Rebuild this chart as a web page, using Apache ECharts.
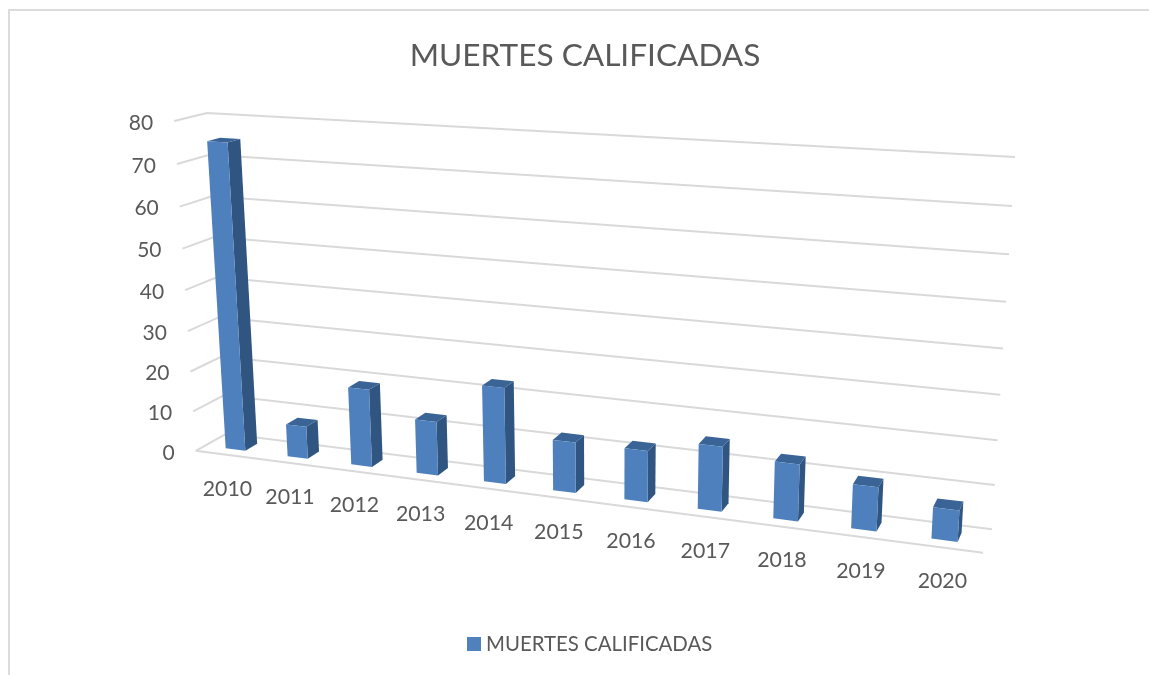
<!DOCTYPE html>
<html><head><meta charset="utf-8">
<style>html,body{margin:0;padding:0;background:#fff}#c{width:1149px;height:675px}</style>
<script src="https://cdn.jsdelivr.net/npm/echarts@6/dist/echarts.min.js"></script>
</head><body><div id="c"></div>
<script>
var chartTitle = 'MUERTES CALIFICADAS';
var categories = ['2010','2011','2012','2013','2014','2015','2016','2017','2018','2019','2020'];
var seriesValues = [75,8,19,13,23,12,12,15,13,10,7];
var valueTicks = [0,10,20,30,40,50,60,70,80];

// Camera calibration of the 3D box: [category, value, depth] -> [screen x, screen y]
var anchors = [
  [[0,0,0],[196,451]], [[11,0,0],[983,553]],
  [[0,0,1],[226,434]], [[11,0,1],[992,529]],
  [[0,80,1],[207,113]], [[11,80,1],[1015,157]],
  [[0,80,0],[174,121]], [[11,70,1],[1012,206]],
  [[0,70,0],[177,164]], [[0,10,0],[193,411]]
];
function solve(A,b){
  var n=b.length,i,j,k;
  for(i=0;i<n;i++){
    var p=i;for(k=i+1;k<n;k++)if(Math.abs(A[k][i])>Math.abs(A[p][i]))p=k;
    var t=A[i];A[i]=A[p];A[p]=t;t=b[i];b[i]=b[p];b[p]=t;
    for(k=i+1;k<n;k++){var f=A[k][i]/A[i][i];for(j=i;j<n;j++)A[k][j]-=f*A[i][j];b[k]-=f*b[i];}
  }
  var x=[];for(i=n-1;i>=0;i--){var s=b[i];for(j=i+1;j<n;j++)s-=A[i][j]*x[j];x[i]=s/A[i][i];}
  return x;
}
function fit(){
  var rows=[],rhs=[];
  anchors.forEach(function(a){
    var X=a[0][0]/11,Y=a[0][1]/80,Z=a[0][2],x=a[1][0]/1000,y=a[1][1]/1000;
    rows.push([X,Y,Z,1,0,0,0,0,-x*X,-x*Y,-x*Z]);rhs.push(x);
    rows.push([0,0,0,0,X,Y,Z,1,-y*X,-y*Y,-y*Z]);rhs.push(y);
  });
  var n=11,A=[],b=[];
  for(var i=0;i<n;i++){A.push([]);b.push(0);for(var j=0;j<n;j++){var s=0;for(var r=0;r<rows.length;r++)s+=rows[r][i]*rows[r][j];A[i].push(s);}
    for(var q=0;q<rows.length;q++)b[i]+=rows[q][i]*rhs[q];}
  return solve(A,b);
}
var H=fit();
function proj(u,v,z){
  var X=u/11,Y=v/80,w=H[8]*X+H[9]*Y+H[10]*z+1;
  return [(H[0]*X+H[1]*Y+H[2]*z+H[3])/w*1000,(H[4]*X+H[5]*Y+H[6]*z+H[7])/w*1000];
}
var barU=0.34, barZ0=0.3, barZ1=0.7;
var gridBox={left:100,top:100,width:880,height:400};
// ECharts scales give [band centre, value] pixel; convert back to box units, then project.
function boxUnits(api,cat,val){
  var c=api.coord([cat,val]);
  return [(c[0]-gridBox.left)/gridBox.width*categories.length,(gridBox.top+gridBox.height-c[1])/gridBox.height*80];
}
function poly(points,color,z2){return {type:'polygon',z2:z2,shape:{points:points},style:{fill:color}};}

var option={
  animation:false,
  backgroundColor:'#ffffff',
  title:{text:chartTitle,left:580,top:35,textAlign:'center',textStyle:{fontFamily:'Lato',fontSize:31.6,fontWeight:'normal',color:'#595959'}},
  legend:{data:[chartTitle],left:462,top:629,icon:'rect',itemWidth:14,itemHeight:14,itemGap:6,
    textStyle:{fontFamily:'Lato',fontSize:20.4,color:'#595959'}},
  grid:gridBox,
  xAxis:{type:'category',data:categories,show:false},
  yAxis:{type:'value',min:0,max:80,interval:10,show:false},
  graphic:[{type:'polyline',shape:{points:[[9,675],[9,10],[1149,10]]},style:{stroke:'#dcdcdc',lineWidth:2,fill:null},silent:true}],
  series:[
    {type:'custom',name:'grid',coordinateSystem:'cartesian2d',silent:true,z:1,
     data:valueTicks.map(function(t){return [0,t];}),encode:{x:0,y:1},
     renderItem:function(p,api){
       var v=boxUnits(api,categories[0],api.value(1))[1];
       var kids=[{type:'polyline',shape:{points:[proj(0,v,0),proj(0,v,1),proj(11,v,1)]},style:{stroke:'#d9d9d9',lineWidth:2,fill:null}}];
       if(v===0)kids.push({type:'line',shape:{x1:proj(0,0,0)[0],y1:proj(0,0,0)[1],x2:proj(11,0,0)[0],y2:proj(11,0,0)[1]},style:{stroke:'#d9d9d9',lineWidth:2}});
       var q=proj(0,v,0);
       kids.push({type:'text',style:{text:String(api.value(1)),x:q[0]-21,y:q[1]+2,align:'right',verticalAlign:'middle',fontFamily:'Lato',fontSize:21,fill:'#595959'}});
       return {type:'group',children:kids};
     }},
    {type:'custom',name:'labels',coordinateSystem:'cartesian2d',silent:true,z:1,
     data:categories.map(function(c){return [c,0];}),encode:{x:0,y:1},
     renderItem:function(p,api){
       var b=boxUnits(api,api.value(0),0),q=proj(b[0],0,0);
       return {type:'text',style:{text:categories[p.dataIndex],x:q[0]+1,y:q[1]+34,align:'center',verticalAlign:'middle',fontFamily:'Lato',fontSize:21.3,fill:'#595959'}};
     }},
    {type:'custom',name:chartTitle,coordinateSystem:'cartesian2d',silent:true,z:2,itemStyle:{color:'#4f81bd'},
     data:categories.map(function(c,i){return [c,seriesValues[i]];}),encode:{x:0,y:1},
     renderItem:function(p,api){
       var b=boxUnits(api,api.value(0),api.value(1)),c=b[0],v=b[1];
       var u0=c-0.5+barU,u1=c+0.5-barU;
       return {type:'group',children:[
         poly([proj(u1,0,barZ0),proj(u1,0,barZ1),proj(u1,v,barZ1),proj(u1,v,barZ0)],'#2f5580',1),
         poly([proj(u0,v,barZ0),proj(u1,v,barZ0),proj(u1,v,barZ1),proj(u0,v,barZ1)],'#3b6496',2),
         poly([proj(u0,0,barZ0),proj(u1,0,barZ0),proj(u1,v,barZ0),proj(u0,v,barZ0)],'#4e80bd',3)
       ]};
     }}
  ]
};
var chart=echarts.init(document.getElementById('c'),null,{renderer:'canvas'});
chart.setOption(option);
</script></body></html>
